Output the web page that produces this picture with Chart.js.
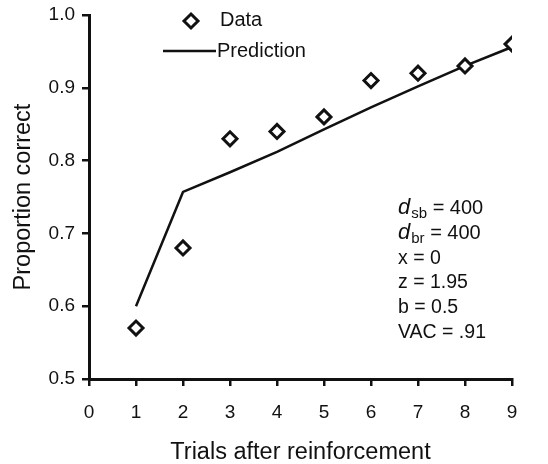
<!DOCTYPE html>
<html>
<head>
<meta charset="utf-8">
<script src="https://cdn.jsdelivr.net/npm/chart.js@4.4.1/dist/chart.umd.min.js"></script>
<style>
  html, body { margin: 0; padding: 0; background: #fff; }
  #wrap { width: 548px; height: 464px; }
</style>
</head>
<body>
<div id="wrap"><canvas id="mainChart" width="548" height="464"></canvas></div>
<script>
const trials = [1, 2, 3, 4, 5, 6, 7, 8, 9];
const dataValues = [0.57, 0.68, 0.83, 0.84, 0.86, 0.91, 0.92, 0.93, 0.96];
const predictionValues = [0.60, 0.757, 0.784, 0.812, 0.843, 0.873, 0.902, 0.930, 0.956];
const yTicks = [0.5, 0.6, 0.7, 0.8, 0.9, 1.0];
const xTicks = [0, 1, 2, 3, 4, 5, 6, 7, 8, 9];
const paramLines = [
  ['d', 'sb', ' = 400'],
  ['d', 'br', ' = 400'],
  ['', '', 'x = 0'],
  ['', '', 'z = 1.95'],
  ['', '', 'b = 0.5'],
  ['', '', 'VAC = .91']
];

const ink = '#111';
const fontFam = "'Liberation Sans', Arial, sans-serif";

// legend drawn in the top left of the plot, like the original figure
const legendPlugin = {
  id: 'figLegend',
  afterDraw(chart) {
    const ctx = chart.ctx;
    const ds = chart.data.datasets;
    ctx.save();
    ctx.font = '20px ' + fontFam;
    ctx.fillStyle = ink;
    ctx.textBaseline = 'middle';
    // diamond
    ctx.strokeStyle = ink;
    ctx.lineWidth = 3;
    ctx.beginPath();
    ctx.moveTo(191, 14); ctx.lineTo(198, 21); ctx.lineTo(191, 28); ctx.lineTo(184, 21);
    ctx.closePath();
    ctx.stroke();
    ctx.fillText(ds[0].label, 220, 20);
    // line
    ctx.lineWidth = 2.5;
    ctx.beginPath();
    ctx.moveTo(163, 51); ctx.lineTo(216, 51);
    ctx.stroke();
    ctx.fillText(ds[1].label, 217, 51);
    ctx.restore();
  }
};

// model parameters text block
const paramPlugin = {
  id: 'params',
  afterDraw(chart) {
    const ctx = chart.ctx;
    ctx.save();
    ctx.fillStyle = ink;
    ctx.textBaseline = 'alphabetic';
    let y = 214;
    paramLines.forEach(p => {
      let x = 398;
      if (p[0]) {
        ctx.font = 'italic 22px ' + fontFam;
        ctx.fillText(p[0], x, y);
        x += ctx.measureText(p[0]).width + 1;
        ctx.font = '15px ' + fontFam;
        ctx.fillText(p[1], x, y + 4);
        x += ctx.measureText(p[1]).width;
        ctx.font = '20px ' + fontFam;
      } else {
        ctx.font = '19.5px ' + fontFam;
      }
      ctx.fillText(p[2], x, y);
      y += 24.8;
    });
    ctx.restore();
  }
};

const ctx = document.getElementById('mainChart').getContext('2d');
const chart = new Chart(ctx, {
  type: 'scatter',
  data: {
    datasets: [{
      label: 'Data',
      data: trials.map((t, i) => ({ x: t, y: dataValues[i] })),
      pointStyle: 'rectRot',
      pointRadius: 7,
      pointBorderWidth: 3,
      pointBackgroundColor: '#fff',
      pointBorderColor: ink,
      showLine: false,
      order: 1
    }, {
      label: 'Prediction',
      data: trials.map((t, i) => ({ x: t, y: predictionValues[i] })),
      showLine: true,
      borderColor: ink,
      borderWidth: 2.5,
      pointRadius: 0,
      tension: 0,
      order: 2
    }]
  },
  options: {
    responsive: false,
    animation: false,
    layout: {
      padding: { left: 0, top: 15, right: 36, bottom: 0 }
    },
    plugins: {
      legend: { display: false },
      tooltip: { enabled: false }
    },
    scales: {
      x: {
        type: 'linear',
        min: 0,
        max: 9,
        afterFit(scale) { scale.height = 85; },
        afterBuildTicks(scale) { scale.ticks = xTicks.map(v => ({ value: v })); },
        ticks: {
          color: ink,
          padding: 15,
          font: { family: fontFam, size: 19 }
        },
        grid: {
          display: true,
          drawOnChartArea: false,
          drawTicks: true,
          tickLength: 7,
          color: ink,
          lineWidth: 2.5
        },
        border: { display: true, color: ink, width: 3 },
        title: {
          display: true,
          text: 'Trials after reinforcement',
          color: ink,
          font: { family: fontFam, size: 23.5, lineHeight: 1 },
          padding: { top: 0, bottom: 0 }
        }
      },
      y: {
        min: 0.5,
        max: 1.0,
        afterFit(scale) {
          scale.width = 89;
          scale.paddingTop = 0;
          scale.paddingBottom = 0;
        },
        afterBuildTicks(scale) { scale.ticks = yTicks.map(v => ({ value: v })); },
        ticks: {
          color: ink,
          padding: 7,
          font: { family: fontFam, size: 19 },
          callback: v => v.toFixed(1)
        },
        grid: {
          display: true,
          drawOnChartArea: false,
          drawTicks: true,
          tickLength: 7,
          color: ink,
          lineWidth: 2.5
        },
        border: { display: true, color: ink, width: 3 },
        title: {
          display: true,
          text: 'Proportion correct',
          color: ink,
          font: { family: fontFam, size: 23.5, lineHeight: 1 },
          padding: { top: 12, bottom: 0 }
        }
      }
    }
  },
  plugins: [legendPlugin, paramPlugin]
});
</script>
</body>
</html>
